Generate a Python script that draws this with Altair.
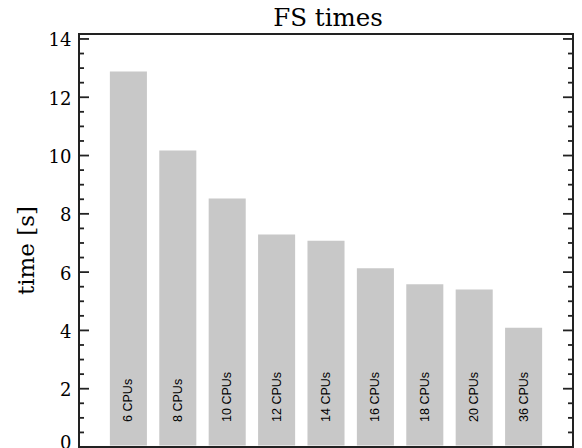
import altair as alt
import pandas as pd

title_text = "FS times"
categories = ["6 CPUs", "8 CPUs", "10 CPUs", "12 CPUs", "14 CPUs",
              "16 CPUs", "18 CPUs", "20 CPUs", "36 CPUs"]
times = [12.88, 10.17, 8.53, 7.29, 7.08, 6.13, 5.58, 5.40, 4.09]
major_ticks = [0, 2, 4, 6, 8, 10, 12, 14]
minor_ticks = [0.5, 1, 1.5, 2.5, 3, 3.5, 4.5, 5, 5.5, 6.5, 7, 7.5,
               8.5, 9, 9.5, 10.5, 11, 11.5, 12.5, 13, 13.5]
y_max = 14.17

W, H = 494, 413

df = pd.DataFrame({"cpus": categories, "time": times})
major_df = pd.DataFrame({"v": major_ticks})
minor_df = pd.DataFrame({"v": minor_ticks})
title_df = pd.DataFrame({"t": [title_text]})

x_enc = alt.X("cpus:N", sort=categories, axis=None,
              scale=alt.Scale(paddingInner=0.25, paddingOuter=0.625))
y_scale = alt.Scale(domain=[0, y_max], nice=False, zero=False)
y_axis = alt.Axis(values=major_ticks, ticks=False,
                  tickSize=0, domain=False, grid=False,
                  labelFont="DejaVu Serif", labelFontSize=18,
                  labelColor="black", labelPadding=8,
                  labelOffset={"condition": {"test": "datum.value === 0", "value": -4},
                               "value": 2},
                  titleFont="DejaVu Serif", titleFontSize=23,
                  titleFontWeight="normal", titleColor="black",
                  titleX=-53, titleY=216, titleAngle=270,
                  titleAlign="center", titleBaseline="middle")
Y_TITLE = "time [s]"

bars = alt.Chart(df).mark_bar(color="#c8c8c8").encode(
    x=x_enc,
    y=alt.Y("time:Q", scale=y_scale, axis=y_axis, title=Y_TITLE),
    y2=alt.datum(0.05),
)

labels = alt.Chart(df).mark_text(
    angle=270, align="left", baseline="middle",
    font="Liberation Sans", fontSize=12.5, color="black"
).encode(
    x=x_enc,
    y=alt.YDatum(0.86, scale=y_scale, axis=y_axis, title=Y_TITLE),
    text="cpus:N",
)

title_layer = alt.Chart(title_df).mark_text(
    font="DejaVu Serif", fontSize=24.5, color="black",
    align="center", baseline="alphabetic"
).encode(
    x=alt.value(W / 2 + 2),
    y=alt.value(-8),
    text="t:N",
)

tick_color = "#222222"

def tick_layer(data, x0, x1):
    return alt.Chart(data).mark_rule(color=tick_color, strokeWidth=1.8).encode(
        y=alt.Y("v:Q", scale=y_scale, axis=y_axis, title=Y_TITLE),
        x=alt.value(x0),
        x2=alt.value(x1),
    )

left_major = tick_layer(major_df, 0, 10)
left_minor = tick_layer(minor_df, 0, 5)
right_major = tick_layer(major_df, W - 10, W)
right_minor = tick_layer(minor_df, W - 5, W)

chart = alt.layer(
    bars, labels, left_major, left_minor, right_major, right_minor, title_layer
).properties(
    width=W,
    height=H,
    padding={"left": 71, "top": 26, "right": 1, "bottom": 2},
    autosize=alt.AutoSizeParams(type="none"),
).configure_view(stroke="#222222", strokeWidth=2)

chart.save("out.html", embed_options={"renderer": "svg", "actions": False})
